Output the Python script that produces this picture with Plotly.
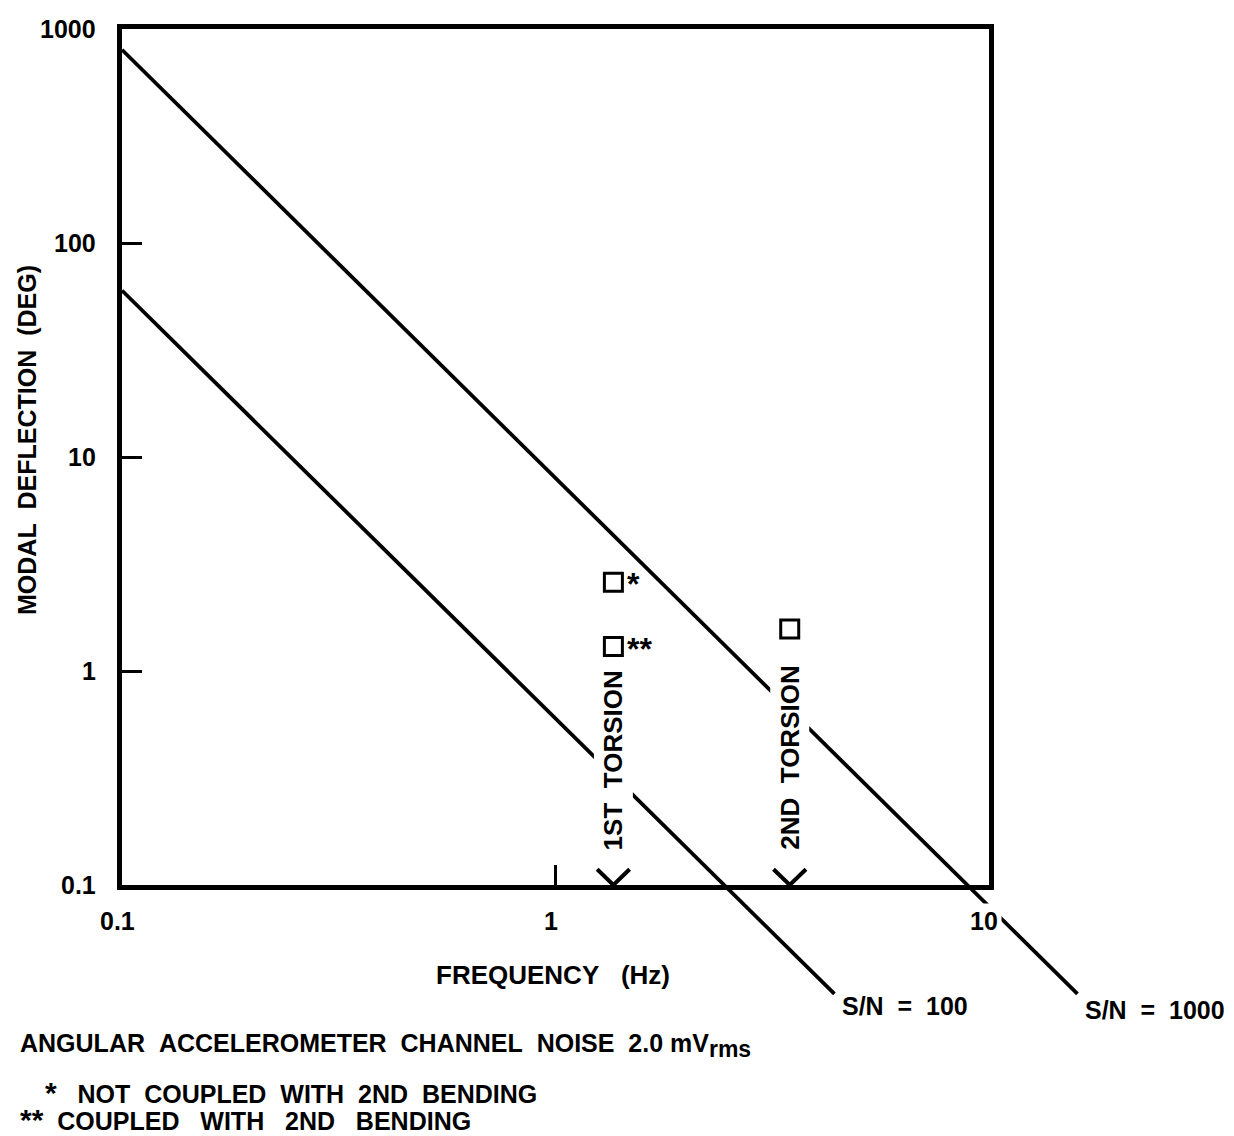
import numpy as np
import plotly.graph_objects as go

# ---------------- data ----------------
# S/N curves (straight lines on log-log): end points
sn1000_freq = [0.1, 16.0]
sn1000_defl = [800.0, 0.031]
sn100_freq = [0.1, 4.4]
sn100_defl = [60.0, 0.031]

# modal data points
mode_freq = [1.36, 1.36, 3.47]
mode_defl = [2.6, 1.3, 1.57]
mode_mark = ["*", "**", None]

# torsion mode frequencies (chevrons on the frequency axis)
torsion_freq = [1.36, 3.47]
torsion_label = ["1ST\u00a0\u00a0TORSION", "2ND\u00a0\u00a0TORSION"]

x_ticks = [0.1, 1, 10]
x_ticklabels = ["0.1", "1", "10"]
y_ticks = [0.1, 1, 10, 100, 1000]
y_ticklabels = ["0.1", "1", "10", "100", "1000"]

# ---------------- layout geometry (screen pixels) ----------------
OFF = 8                                  # page body margin
SW, SH = 1234, 1136
W, H = SW - OFF, SH - OFF                # figure size (fills to the window edge)
L, R, T, B = 122, 989, 29, 885           # frame box (screen px)
pxdx = (R - L) / 2.0
pxdy = (B - T) / 4.0

xr = [-1 - (L - OFF) / pxdx, -1 + (OFF + W - L) / pxdx]
yr = [3 - (OFF + H - T) / pxdy, 3 + (T - OFF) / pxdy]

def px(x):
    return (x - OFF) / W

def py(y):
    return 1 - (y - OFF) / H

FONT = "Liberation Sans, Arial, Helvetica, sans-serif"
BLACK = "#000000"
NB = "\u00a0"

def f(size):
    return dict(family=FONT, size=size, color=BLACK, weight=700)

fig = go.Figure()

# S/N lines
for fx, fy in [(sn1000_freq, sn1000_defl), (sn100_freq, sn100_defl)]:
    fig.add_trace(go.Scatter(x=fx, y=fy, mode="lines",
                             line=dict(color=BLACK, width=3.8),
                             hoverinfo="skip", showlegend=False))

# chevrons at the torsion frequencies
cx, cy = [], []
for fr in torsion_freq:
    cx += [fr / 1.09, fr, fr * 1.09, None]
    cy += [0.1185, 0.1, 0.1185, None]
fig.add_trace(go.Scatter(x=cx, y=cy, mode="lines",
                         line=dict(color=BLACK, width=4),
                         hoverinfo="skip", showlegend=False))

# modal points
fig.add_trace(go.Scatter(x=mode_freq, y=mode_defl, mode="markers",
                         marker=dict(symbol="square-open", size=18,
                                     color=BLACK, line=dict(width=3, color=BLACK)),
                         hoverinfo="skip", showlegend=False))

# invisible trace for frame subplot
fig.add_trace(go.Scatter(x=[0.1, 10], y=[0.1, 1000], xaxis="x2", yaxis="y2",
                         mode="markers", marker=dict(opacity=0),
                         hoverinfo="skip", showlegend=False))

ann = []
# asterisk marks next to the points
for fr, v, m in zip(mode_freq, mode_defl, mode_mark):
    if m:
        ann.append(dict(x=np.log10(fr), y=np.log10(v), xref="x", yref="y",
                        text=m, showarrow=False, font=f(32),
                        xanchor="left", yanchor="middle", xshift=12, yshift=-2))

# torsion labels (white background breaks the lines)
for fr, lab in zip(torsion_freq, torsion_label):
    ann.append(dict(x=np.log10(fr), y=np.log10(0.1), xref="x", yref="y",
                    text=lab, textangle=-90, showarrow=False, font=f(26),
                    xanchor="center", yanchor="bottom", yshift=30,
                    bgcolor="white", borderpad=4))

# tick labels
for v, lab in zip(y_ticks, y_ticklabels):
    ann.append(dict(x=px(98), y=np.log10(v), xref="paper", yref="y",
                    text=lab, showarrow=False, font=f(25),
                    xanchor="right", yanchor="middle"))
for v, lab in zip(x_ticks, x_ticklabels):
    a = dict(x=np.log10(v), y=py(921), xref="x", yref="paper",
             text=lab, showarrow=False, font=f(25), xshift=-5,
             xanchor="center", yanchor="middle")
    if v == 10:
        a.update(bgcolor="white", borderpad=3)
    ann.append(a)

# axis titles
ann.append(dict(x=px(27), y=py(440), xref="paper", yref="paper",
                text="MODAL" + NB * 2 + "DEFLECTION" + NB * 2 + "(DEG)", textangle=-90,
                showarrow=False, font=f(25), xanchor="center", yanchor="middle"))
ann.append(dict(x=px(553), y=py(975), xref="paper", yref="paper",
                text="FREQUENCY" + NB * 3 + "(Hz)", showarrow=False, font=f(26),
                xanchor="center", yanchor="middle"))

# S/N labels
ann.append(dict(x=px(840), y=py(1006), xref="paper", yref="paper",
                text="S/N" + NB * 2 + "=" + NB * 2 + "100", showarrow=False, font=f(25),
                xanchor="left", yanchor="middle"))
ann.append(dict(x=px(1083), y=py(1010), xref="paper", yref="paper",
                text="S/N" + NB * 2 + "=" + NB * 2 + "1000", showarrow=False, font=f(25),
                xanchor="left", yanchor="middle"))

# footnotes
sp2 = NB * 2
sp3 = NB * 3
star = '<span style="font-size:30px">{}</span>'
ann.append(dict(x=px(18), y=py(1045), xref="paper", yref="paper",
                text=sp2.join(["ANGULAR", "ACCELEROMETER", "CHANNEL", "NOISE", "2.0"]) + NB
                     + 'mV<sub><span style="font-size:23px">rms</span></sub>',
                showarrow=False, font=f(25), xanchor="left", yanchor="middle"))
ann.append(dict(x=px(43), y=py(1092), xref="paper", yref="paper",
                text=star.format("*") + sp3 + sp2.join(["NOT", "COUPLED", "WITH", "2ND", "BENDING"]),
                showarrow=False, font=f(25), xanchor="left", yanchor="middle"))
ann.append(dict(x=px(18), y=py(1119), xref="paper", yref="paper",
                text=star.format("**") + sp2 + sp3.join(["COUPLED", "WITH", "2ND", "BENDING"]),
                showarrow=False, font=f(25), xanchor="left", yanchor="middle"))

fig.update_layout(
    width=W, height=H,
    margin=dict(l=0, r=0, t=0, b=0),
    paper_bgcolor="white", plot_bgcolor="rgba(0,0,0,0)",
    showlegend=False,
    xaxis=dict(type="log", range=xr, domain=[0, 1], visible=False, automargin=False),
    yaxis=dict(type="log", range=yr, domain=[0, 1], visible=False, automargin=False),
    xaxis2=dict(type="log", range=[-1, 1], domain=[px(L), px(R)], anchor="y2",
                showline=True, mirror=True, linecolor=BLACK, linewidth=5,
                ticks="inside", tickvals=x_ticks, ticklen=20, tickwidth=3,
                tickcolor=BLACK, showticklabels=False, showgrid=False,
                zeroline=False, automargin=False),
    yaxis2=dict(type="log", range=[-1, 3], domain=[py(B), py(T)], anchor="x2",
                showline=True, mirror=True, linecolor=BLACK, linewidth=5,
                ticks="inside", tickvals=y_ticks, ticklen=20, tickwidth=3,
                tickcolor=BLACK, showticklabels=False, showgrid=False,
                zeroline=False, automargin=False),
    annotations=ann,
)

fig.write_html("out.html")
